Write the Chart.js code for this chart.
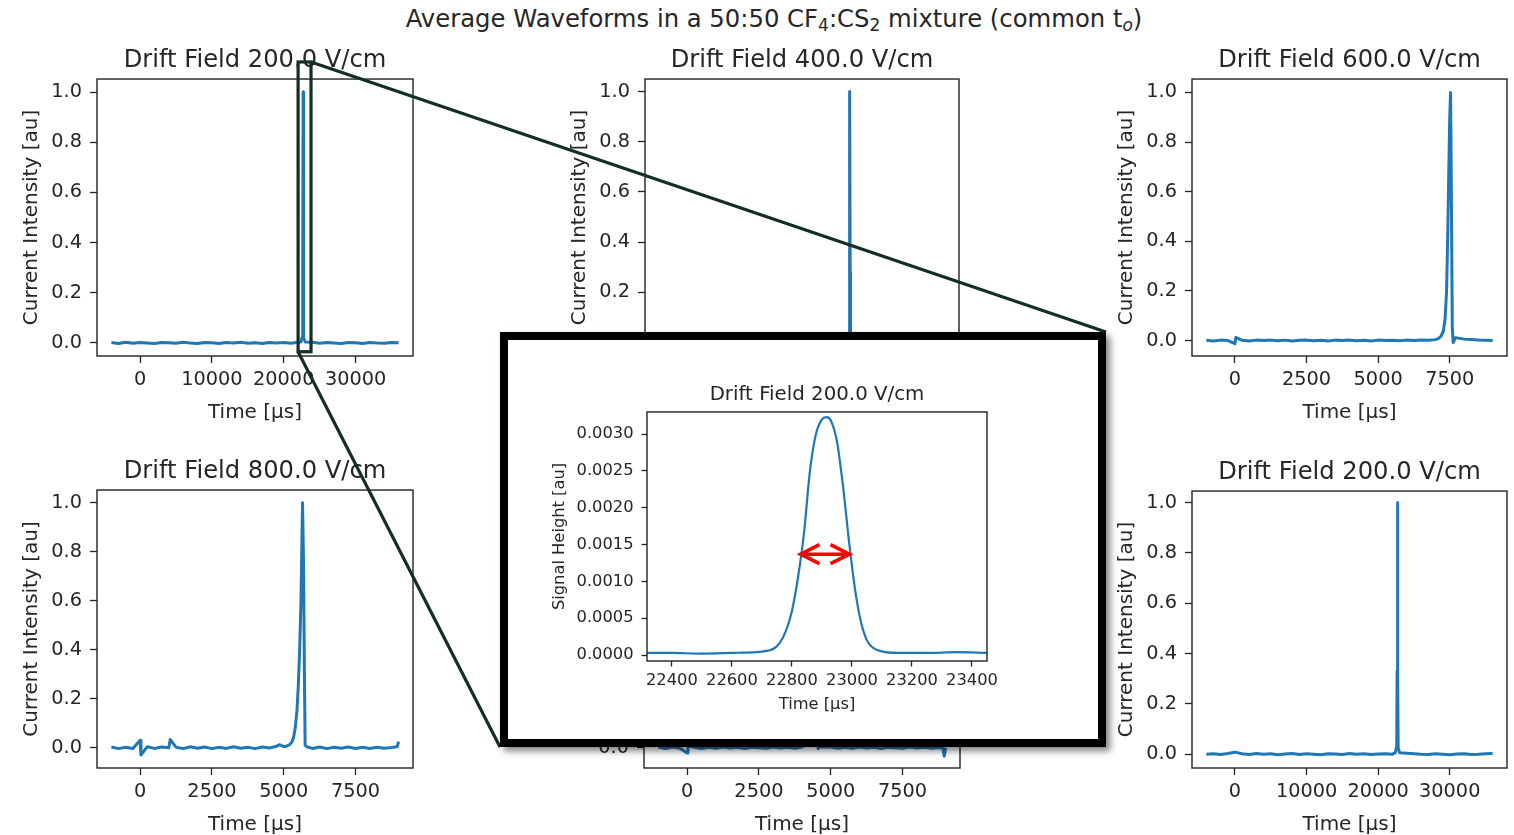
<!DOCTYPE html>
<html>
<head>
<meta charset="utf-8">
<title>Average Waveforms</title>
<script src="https://cdn.jsdelivr.net/npm/chart.js@4.4.0/dist/chart.umd.min.js"></script>
<style>
  body { margin: 0; width: 1514px; height: 835px; overflow: hidden; position: relative; background: #fff; font-family: 'DejaVu Sans', sans-serif; }
  canvas.panel { position: absolute; z-index: 1; }
  #links { position: absolute; left: 0; top: 0; z-index: 2; }
  #insetBox { position: absolute; left: 500px; top: 332px; width: 606px; height: 415px; box-sizing: border-box;
              border: 8px solid #000; background: #fff; z-index: 3; box-shadow: 4px 4px 7px rgba(0,0,0,0.5); }
  #insetBox canvas { position: absolute; left: 0; top: 0; }
  #suptitle { position: absolute; left: 774px; top: 7px; transform: translateX(-50%); white-space: nowrap;
              font-size: 24.3px; line-height: 1; color: #262626; }
  #suptitle sub { font-size: 70%; line-height: 0; vertical-align: -0.25em; }
</style>
</head>
<body>
<div id="suptitle">Average Waveforms in a 50:50 CF<sub>4</sub>:CS<sub>2</sub> mixture (common t<sub><i>o</i></sub>)</div>
<canvas class="panel" id="p1"></canvas>
<canvas class="panel" id="p2"></canvas>
<canvas class="panel" id="p3"></canvas>
<canvas class="panel" id="p4"></canvas>
<canvas class="panel" id="p5"></canvas>
<canvas class="panel" id="p6"></canvas>
<canvas id="links" width="1514" height="835"></canvas>
<div id="insetBox"><canvas id="inset"></canvas></div>

<script>
// --- tick labels ---
const wideTicks = [0, 10000, 20000, 30000];
const narrowTicks = [0, 2500, 5000, 7500];
const intensityTicks = [0, 0.2, 0.4, 0.6, 0.8, 1.0];
const insetTimeTicks = [22400, 22600, 22800, 23000, 23200, 23400];
const insetHeightTicks = [0, 0.0005, 0.001, 0.0015, 0.002, 0.0025, 0.003];

// --- waveforms, long drift (time in us) ---
const timeWide = [-4000, -3000, -2000, -1000, 0, 1000, 2000, 3000, 4000, 5000, 6000, 7000, 8000, 9000,
  10000, 11000, 12000, 13000, 14000, 15000, 16000, 17000, 18000, 19000, 20000, 21000, 22000,
  22400, 22600, 22650, 22700, 22750, 22800, 23000,
  24000, 25000, 26000, 27000, 28000, 29000, 30000, 31000, 32000, 33000, 34000, 35000, 36000];
const signal200 = [0.002, -0.002, 0.003, -0.001, 0.002, 0.000, -0.002, 0.002, 0.001, -0.001, 0.003, 0.000, -0.002, 0.002,
  0.001, -0.002, 0.002, 0.000, 0.003, -0.001, 0.001, -0.002, 0.002, 0.000, 0.002, -0.001, 0.003,
  0.004, 0.025, 0.3, 1.0, 0.3, 0.02, 0.004,
  0.003, -0.001, 0.002, 0.000, -0.002, 0.002, 0.001, -0.002, 0.002, 0.000, -0.001, 0.002, 0.001];
const signal400 = [0.001, 0.003, -0.002, 0.002, 0.000, -0.001, 0.002, 0.003, -0.002, 0.001, 0.000, 0.002, -0.001, 0.003,
  -0.002, 0.001, 0.002, -0.001, 0.000, 0.002, -0.002, 0.003, 0.001, -0.001, 0.002, 0.000, 0.002,
  0.005, 0.03, 0.32, 1.0, 0.28, 0.02, 0.003,
  0.002, 0.000, -0.002, 0.003, 0.001, -0.001, 0.002, -0.002, 0.001, 0.003, 0.000, -0.001, 0.002];
const signal200b = [0.000, 0.002, -0.001, 0.003, 0.008, 0.002, -0.001, 0.003, 0.000, 0.002, -0.002, 0.001, 0.003, -0.001,
  0.002, 0.000, -0.002, 0.002, 0.001, -0.001, 0.003, 0.000, 0.002, -0.001, 0.001, 0.002, 0.000,
  0.006, 0.035, 0.33, 1.0, 0.3, 0.025, 0.006,
  0.004, 0.002, 0.000, -0.001, 0.002, 0.000, -0.002, 0.001, 0.002, -0.001, 0.000, 0.002, 0.003];

// --- waveforms, short drift ---
const time600 = [-1000, -750, -500, -250, 0, 30, 250, 500, 750, 1000, 1250, 1500, 1750, 2000, 2250, 2500, 2750,
  3000, 3250, 3500, 3750, 4000, 4250, 4500, 4750, 5000, 5250, 5500, 5750, 6000, 6250, 6500, 6750, 7000,
  7100, 7200, 7280, 7340, 7390, 7430, 7470, 7500, 7530, 7560, 7590, 7620,
  7700, 7800, 8000, 8250, 8500, 8750, 9000];
const signal600 = [0.001, -0.002, 0.002, 0.000, -0.012, 0.013, 0.001, -0.002, 0.002, 0.000, 0.002, -0.001, 0.002, -0.002, 0.001, 0.002, -0.001,
  0.001, -0.002, 0.002, 0.000, 0.002, -0.001, 0.001, -0.002, 0.002, 0.000, 0.001, -0.001, 0.002, 0.000, 0.002, 0.001, 0.004,
  0.008, 0.018, 0.04, 0.09, 0.2, 0.42, 0.7, 0.9, 1.0, 0.55, 0.05, -0.008,
  0.012, 0.01, 0.006, 0.004, 0.002, 0.001, 0.000];

const time800 = [-1000, -750, -500, -250, 0, 30, 250, 500, 750, 1000, 1050, 1250, 1500, 1750, 2000, 2250, 2500, 2750,
  3000, 3250, 3500, 3750, 4000, 4250, 4500, 4750, 4850, 5000, 5100, 5200, 5280, 5340, 5400, 5460, 5510, 5560,
  5600, 5630, 5655, 5690, 5720, 5745, 5800, 6000, 6250, 6500, 6750, 7000, 7250, 7500, 7750, 8000, 8250, 8500,
  8750, 8950, 9000];
const signal800 = [0.003, -0.004, 0.002, -0.003, 0.03, -0.03, 0.004, -0.003, 0.003, 0.000, 0.033, 0.002, -0.004, 0.004, -0.002, 0.003, -0.004, 0.002,
  -0.003, 0.004, -0.002, 0.002, -0.004, 0.003, -0.001, 0.006, 0.012, 0.004, 0.006, 0.012, 0.022, 0.04, 0.08, 0.15, 0.26, 0.42,
  0.6, 0.82, 1.0, 0.75, 0.3, 0.01, 0.004, -0.003, 0.003, -0.004, 0.002, -0.002, 0.003, -0.003, 0.002, -0.003, 0.002, -0.002,
  0.001, 0.004, 0.025];

const time1000 = [-1000, -750, -500, -250, 0, 30, 250, 500, 750, 1000, 1250, 1500, 1750, 2000, 2250, 2500, 2750,
  3000, 3250, 3500, 3750, 4000, 4100, 4200, 4280, 4340, 4380, 4410, 4440, 4465, 4490, 4520, 4560, 4600,
  4750, 5000, 5250, 5500, 5750, 6000, 6250, 6500, 6750, 7000, 7250, 7500, 7750, 8000, 8250, 8500, 8750, 8900, 8950, 9000];
const signal1000 = [0.002, -0.003, 0.003, -0.002, -0.022, 0.008, 0.002, -0.003, 0.002, -0.002, 0.003, -0.001, 0.002, -0.003, 0.002, 0.000, -0.002,
  0.003, -0.001, 0.002, -0.002, 0.003, 0.008, 0.018, 0.04, 0.09, 0.2, 0.4, 0.7, 1.0, 0.6, 0.12, -0.004, 0.002,
  0.004, 0.003, -0.002, 0.002, -0.002, 0.003, -0.001, 0.002, -0.003, 0.002, 0.000, -0.002, 0.003, -0.001, 0.002, -0.002, 0.001, -0.002, -0.035, 0.0];

// --- zoomed pulse (200 V/cm) ---
const insetTime = [22317, 22400, 22500, 22600, 22680, 22720, 22740, 22760, 22780, 22800, 22820, 22840, 22860, 22880,
  22900, 22915, 22930, 22950, 22970, 22990, 23010, 23030, 23050, 23070, 23100, 23150, 23250, 23350, 23450];
const insetHeight = [0.00003, 0.00003, 0.00002, 0.00003, 0.00004, 0.00006, 0.00009, 0.00017, 0.00033, 0.0006, 0.00105, 0.00165, 0.0025, 0.003,
  0.0032, 0.00323, 0.00318, 0.0029, 0.0023, 0.00155, 0.0009, 0.00045, 0.0002, 0.0001, 0.00005, 0.00003, 0.00003, 0.00004, 0.00003];
const fwhmTimes = [22825, 22995];
const fwhmLevel = 0.00137;

// region of the first panel that is blown up
const zoomTime = [22000, 23800];
const zoomIntensity = [-0.035, 1.12];

// --- layout: plot frames [left, top, right, bottom] in page pixels ---
const frames = {
  p1: [97, 79, 413, 356], p2: [645, 79, 959, 356], p3: [1192, 79, 1507, 356],
  p4: [97, 490, 413, 768], p5: [644, 490, 960, 768], p6: [1192, 491, 1507, 768]
};

const TEXT = '#262626';
const BLUE = '#1f77b4';
Chart.defaults.font.family = "'DejaVu Sans', sans-serif";

// draws the full box round the plot area like matplotlib spines
const framePlugin = {
  id: 'frame',
  afterDraw(chart) {
    const { ctx, chartArea: a } = chart;
    ctx.save();
    ctx.strokeStyle = '#222';
    ctx.lineWidth = 1.4;
    ctx.strokeRect(a.left, a.top, a.right - a.left, a.bottom - a.top);
    ctx.restore();
  }
};

function axisOpts(range, ticks, fmt, tickSize, labelSize, tickPad, titleText, titlePad, fitFn) {
  return {
    type: 'linear', min: range[0], max: range[1],
    afterFit: fitFn,
    afterBuildTicks: s => { s.ticks = ticks.map(v => ({ value: v })); },
    grid: { display: true, drawOnChartArea: false, drawTicks: true, tickLength: tickSize > 17 ? 7 : 5.5, tickWidth: 1.3, tickColor: '#222' },
    border: { display: false },
    ticks: { color: TEXT, padding: tickPad, autoSkip: false, maxRotation: 0, font: { size: tickSize }, callback: fmt },
    title: { display: true, text: titleText, color: TEXT, font: { size: labelSize, lineHeight: 1.2 }, padding: titlePad }
  };
}

function panelChart(id, title, times, values, xRange, yRange, xTicks) {
  const [L, T, R, B] = frames[id];
  const W = 97, TOP = 40, BOT = 80, RM = 7;
  const cv = document.getElementById(id);
  cv.width = W + (R - L) + RM;
  cv.height = TOP + (B - T) + BOT;
  cv.style.left = (L - W) + 'px';
  cv.style.top = (T - TOP) + 'px';
  return new Chart(cv, {
    type: 'line',
    data: { datasets: [{ data: times.map((t, i) => ({ x: t, y: values[i] })), borderColor: BLUE, borderWidth: 3,
      pointRadius: 0, tension: 0, borderJoinStyle: 'round' }] },
    options: {
      responsive: false, animation: false, devicePixelRatio: 1,
      layout: { padding: { left: 0, right: RM, top: 0, bottom: 0 } },
      plugins: {
        legend: { display: false }, tooltip: { enabled: false },
        title: { display: true, text: title, fullSize: false, color: TEXT,
          font: { size: 24.2, weight: 'normal', lineHeight: 1.2 }, padding: { top: 7.2, bottom: 3.8 } }
      },
      scales: {
        x: axisOpts(xRange, xTicks, v => String(v), 19.3, 20, 5.6, 'Time [μs]', { top: 0, bottom: 11 }, s => { s.height = BOT; }),
        y: axisOpts(yRange, intensityTicks, v => v.toFixed(1), 19.3, 20, 8, 'Current Intensity [au]', { top: 19.6, bottom: 0 }, s => { s.width = W; })
      }
    },
    plugins: [framePlugin]
  });
}

const charts = {
  p1: panelChart('p1', 'Drift Field 200.0 V/cm', timeWide, signal200, [-6000, 38000], [-0.052, 1.052], wideTicks),
  p2: panelChart('p2', 'Drift Field 400.0 V/cm', timeWide, signal400, [-6000, 38000], [-0.054, 1.05], wideTicks),
  p3: panelChart('p3', 'Drift Field 600.0 V/cm', time600, signal600, [-1500, 9500], [-0.062, 1.054], narrowTicks),
  p4: panelChart('p4', 'Drift Field 800.0 V/cm', time800, signal800, [-1500, 9500], [-0.083, 1.052], narrowTicks),
  p5: panelChart('p5', 'Drift Field 1000.0 V/cm', time1000, signal1000, [-1500, 9500], [-0.083, 1.052], narrowTicks),
  p6: panelChart('p6', 'Drift Field 200.0 V/cm', timeWide, signal200b, [-6000, 38000], [-0.055, 1.046], wideTicks)
};

// red double arrow marking the width at half height
const fwhmArrow = {
  id: 'fwhmArrow',
  afterDatasetsDraw(chart) {
    const { ctx, scales: { x, y } } = chart;
    const xl = x.getPixelForValue(fwhmTimes[0]);
    const xr = x.getPixelForValue(fwhmTimes[1]);
    const yy = y.getPixelForValue(fwhmLevel);
    ctx.save();
    ctx.strokeStyle = '#ff0000';
    ctx.lineWidth = 3.5;
    ctx.lineJoin = 'miter';
    ctx.beginPath();
    ctx.moveTo(xl, yy); ctx.lineTo(xr, yy);
    ctx.moveTo(xl + 20, yy - 9.5); ctx.lineTo(xl + 1, yy); ctx.lineTo(xl + 20, yy + 9.5);
    ctx.moveTo(xr - 20, yy - 9.5); ctx.lineTo(xr - 1, yy); ctx.lineTo(xr - 20, yy + 9.5);
    ctx.stroke();
    ctx.restore();
  }
};

// inset chart inside the black box (inner area 590 x 399)
const insetCanvas = document.getElementById('inset');
insetCanvas.width = 590;
insetCanvas.height = 399;
const insetChart = new Chart(insetCanvas, {
  type: 'line',
  data: { datasets: [{ data: insetTime.map((t, i) => ({ x: t, y: insetHeight[i] })), borderColor: BLUE, borderWidth: 2.2,
    pointRadius: 0, cubicInterpolationMode: 'monotone' }] },
  options: {
    responsive: false, animation: false, devicePixelRatio: 1,
    layout: { padding: { left: 0, right: 111, top: 0, bottom: 0 } },
    plugins: {
      legend: { display: false }, tooltip: { enabled: false },
      title: { display: true, text: 'Drift Field 200.0 V/cm', fullSize: false, color: TEXT,
        font: { size: 19.8, weight: 'normal', lineHeight: 1.2 }, padding: { top: 42.7, bottom: 5.5 } }
    },
    scales: {
      x: axisOpts([22317, 23450], insetTimeTicks, v => String(v), 16.3, 16.3, 4.8, 'Time [μs]', { top: 0, bottom: 24.9 }, s => { s.height = 78; }),
      y: axisOpts([-0.00008, 0.0033], insetHeightTicks, v => v.toFixed(4), 16.3, 16.3, 8, 'Signal Height [au]', { top: 41.8, bottom: 0 }, s => { s.width = 139; })
    }
  },
  plugins: [framePlugin, fwhmArrow]
});

// zoom rectangle on the first panel and the two connector lines to the inset box
function drawLinks() {
  const ctx = document.getElementById('links').getContext('2d');
  const src = charts.p1;
  const c = src.canvas.getBoundingClientRect();
  const x0 = c.left + src.scales.x.getPixelForValue(zoomTime[0]);
  const x1 = c.left + src.scales.x.getPixelForValue(zoomTime[1]);
  const y0 = c.top + src.scales.y.getPixelForValue(zoomIntensity[0]);
  const y1 = c.top + src.scales.y.getPixelForValue(zoomIntensity[1]);
  const box = document.getElementById('insetBox').getBoundingClientRect();
  ctx.strokeStyle = '#142d29';
  ctx.lineWidth = 3.2;
  ctx.strokeRect(x0, y1, x1 - x0, y0 - y1);
  ctx.beginPath();
  ctx.moveTo(x1, y1); ctx.lineTo(box.right, box.top);
  ctx.moveTo(x0, y0); ctx.lineTo(box.left, box.bottom);
  ctx.stroke();
}
drawLinks();
</script>
</body>
</html>
